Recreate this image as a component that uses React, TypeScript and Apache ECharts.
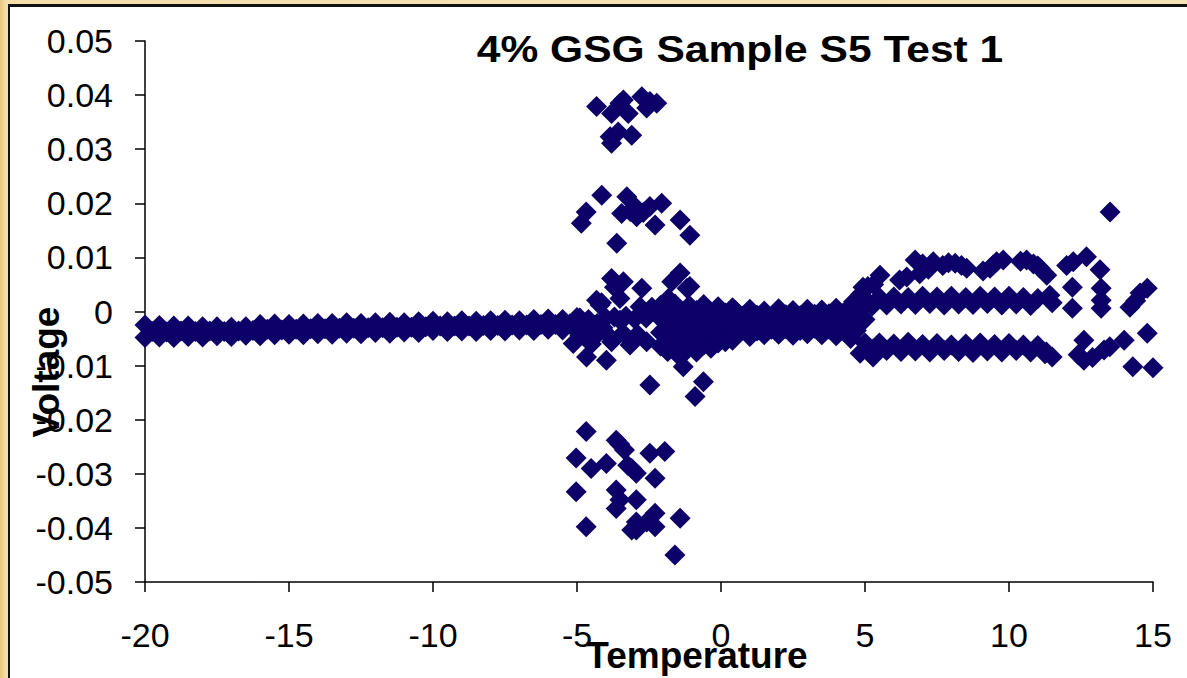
import React, { useEffect, useRef } from 'react';
import * as echarts from 'echarts';

// ---- axis definitions ----
const xMin = -20;
const xMax = 15;
const xStep = 5;
const yMin = -0.05;
const yMax = 0.05;
const yStep = 0.01;

const titleText = '4% GSG Sample S5 Test 1';
const xName = 'Temperature';
const yName = 'Voltage';

// ---- west band (steady readings, -20 .. -5) ----
const westX = [-20, -19.5, -19, -18.5, -18, -17.5, -17, -16.5, -16, -15.5, -15, -14.5, -14, -13.5, -13, -12.5, -12, -11.5, -11, -10.5, -10, -9.5, -9, -8.5, -8, -7.5, -7, -6.5, -6, -5.5, -5];
const westTop = [-0.0025, -0.0026, -0.0027, -0.0027, -0.0028, -0.0028, -0.0029, -0.0028, -0.0024, -0.0023, -0.0024, -0.0023, -0.0022, -0.0022, -0.0021, -0.0022, -0.0021, -0.002, -0.0021, -0.0019, -0.0018, -0.0019, -0.0017, -0.0018, -0.0017, -0.0016, -0.0017, -0.0015, -0.0014, -0.0015, -0.0011];
const westBottom = [-0.0048, -0.0047, -0.0048, -0.0046, -0.0047, -0.0045, -0.0046, -0.0044, -0.0045, -0.0043, -0.0042, -0.0043, -0.0041, -0.0042, -0.004, -0.0041, -0.0039, -0.004, -0.0038, -0.0039, -0.0035, -0.0037, -0.0036, -0.0037, -0.0035, -0.0036, -0.0034, -0.0035, -0.0033, -0.0034, -0.0036];
const westMidX = [-19.75, -19.25, -18.75, -18.25, -17.75, -17.25, -16.75, -16.25, -15.75, -15.25, -14.75, -14.25, -13.75, -13.25, -12.75, -12.25, -11.75, -11.25, -10.75, -10.25, -9.75, -9.25, -8.75, -8.25, -7.75, -7.25, -6.75, -6.25, -5.75, -5.25];
const westMid = [-0.0037, -0.0038, -0.0036, -0.0037, -0.0036, -0.0037, -0.0036, -0.0035, -0.0033, -0.0034, -0.0033, -0.0032, -0.0032, -0.0031, -0.0031, -0.003, -0.003, -0.0029, -0.0029, -0.0028, -0.0027, -0.0027, -0.0027, -0.0026, -0.0026, -0.0025, -0.0025, -0.0024, -0.0024, -0.0023];

// ---- burst region (-5 .. -0.5) ----
const burstHigh: [number, number][] = [
  [-4.32, 0.0379], [-3.8, 0.0366], [-3.51, 0.0385], [-3.39, 0.0391], [-3.22, 0.0366], [-2.75, 0.0397],
  [-2.58, 0.0376], [-2.47, 0.0388], [-2.23, 0.0385], [-3.85, 0.0323], [-3.57, 0.0332], [-3.8, 0.0311], [-3.1, 0.0326],
];
const burstMidHigh: [number, number][] = [
  [-4.14, 0.0215], [-4.68, 0.0184], [-4.85, 0.0163], [-3.27, 0.0212], [-3.45, 0.0181], [-2.99, 0.0194],
  [-2.93, 0.0175], [-2.47, 0.0194], [-2.06, 0.02], [-2.29, 0.016], [-1.42, 0.0169], [-1.08, 0.0141],
  [-3.62, 0.0126], [-3.15, 0.0185], [-2.7, 0.0183],
];
const burstNearTop: [number, number][] = [
  [-3.8, 0.0061], [-3.39, 0.0055], [-2.75, 0.0043], [-1.71, 0.0055], [-1.42, 0.0071], [-1.08, 0.0046],
  [-4.32, 0.0021], [-4.15, 0.0016], [-3.51, 0.0024], [-1.83, 0.0024], [-4.2, 0.0012], [-2.81, 0.0009],
  [-3.7, 0.0045], [-1.18, 0.0043],
];
const burstCore: [number, number][] = [
  [-4.9, -0.0012], [-4.75, -0.0028], [-4.6, -0.0015], [-4.45, -0.0035], [-4.3, -0.0022], [-4.1, -0.003],
  [-4.0, -0.0012], [-3.7, -0.001], [-3.3, -0.0009], [-3.0, -0.0014], [-2.6, -0.0012], [-2.4, 0.0008],
  [-3.9, -0.0045], [-3.4, -0.004], [-2.9, -0.0042],
];
const burstNearBottom: [number, number][] = [
  [-5.13, -0.0059], [-4.67, -0.0084], [-3.98, -0.009], [-3.8, -0.0056], [-3.16, -0.0062], [-2.58, -0.0056],
  [-4.26, -0.004], [-3.51, -0.0016], [-2.47, -0.0136], [-0.61, -0.013], [-0.9, -0.0157], [-1.31, -0.0102],
  [-1.89, -0.0071], [-1.42, -0.0084], [-4.9, -0.0045], [-4.5, -0.006],
];
const burstLow: [number, number][] = [
  [-4.68, -0.0222], [-5.03, -0.0271], [-4.51, -0.029], [-3.98, -0.0281], [-3.64, -0.0238], [-3.52, -0.0245],
  [-3.35, -0.0256], [-3.24, -0.0284], [-2.94, -0.0299], [-3.1, -0.029], [-2.47, -0.0262], [-1.95, -0.0259],
  [-2.29, -0.0308], [-5.03, -0.0333], [-3.64, -0.033], [-3.51, -0.0348], [-2.94, -0.0348], [-3.64, -0.0364],
  [-4.68, -0.0398], [-2.94, -0.0389], [-2.94, -0.0404], [-2.29, -0.0373], [-2.29, -0.0398], [-2.58, -0.0389],
  [-1.42, -0.0382], [-1.6, -0.045], [-3.1, -0.0404],
];

// ---- dense block (-2.1 .. 0.4) ----
const blockX = [-2.1, -1.85, -1.6, -1.35, -1.1, -0.85, -0.6, -0.35, -0.1, 0.15, 0.4];
const blockRow1 = [0.0011, 0.0001, 0.0014, -0.0002, 0.0011, 0.0002, 0.0013, -0.0001, 0.0009, -0.0003, 0.0007];
const blockRow2 = [-0.0013, -0.0026, -0.001, -0.0024, -0.0012, -0.0027, -0.0011, -0.0025, -0.0014, -0.0026, -0.0015];
const blockRow3 = [-0.0039, -0.0052, -0.0036, -0.005, -0.004, -0.0053, -0.0037, -0.0049, -0.004, -0.0047, -0.0042];
const blockRow4 = [-0.0064, -0.0074, -0.006, -0.0071, -0.0066, -0.0075, -0.0062, -0.0068, -0.0058, -0.0056, -0.0053];

// ---- core band (0.5 .. 4.5) ----
const coreX = [0.5, 1, 1.5, 2, 2.5, 3, 3.5, 4, 4.5];
const coreRowA = [0.0002, 0.0004, 0.0001, 0.0005, 0.0002, 0.0004, 0.0003, 0.0006, 0.0008];
const coreRowC = [-0.0022, -0.002, -0.0024, -0.0019, -0.0021, -0.0018, -0.002, -0.0017, -0.0015];
const coreRowE = [-0.0044, -0.0046, -0.0043, -0.0042, -0.0044, -0.0041, -0.0043, -0.0045, -0.0048];
const coreMidX = [0.75, 1.25, 1.75, 2.25, 2.75, 3.25, 3.75, 4.25];
const coreRowB = [-0.0009, -0.0007, -0.001, -0.0006, -0.0008, -0.0005, -0.0004, -0.0003];
const coreRowD = [-0.0034, -0.0036, -0.0033, -0.0032, -0.0035, -0.0031, -0.0033, -0.0035];

// ---- east branches (4.5 .. 15) ----
const transition: [number, number][] = [
  [4.6, 0.0018], [4.85, 0.0032], [5.1, 0.0046], [4.93, 0.0045], [4.75, 0.0], [5.0, -0.0015],
  [4.5, -0.005], [4.83, -0.0077], [5.0, -0.0058], [5.25, -0.007], [5.28, -0.0084], [4.7, -0.0035],
];
const upperBranch: [number, number][] = [
  [5.3, 0.005], [5.52, 0.0067], [6.2, 0.0058], [6.45, 0.0064], [6.74, 0.0095], [6.9, 0.007], [7.0, 0.0088],
  [7.2, 0.0078], [7.37, 0.0092], [7.7, 0.0085], [7.9, 0.009], [8.13, 0.0089], [8.35, 0.0085], [8.53, 0.008],
  [9.1, 0.0075], [9.34, 0.008], [9.45, 0.0086], [9.57, 0.0092], [9.8, 0.0095], [10.4, 0.0093], [10.61, 0.0095],
  [10.85, 0.0088], [11.0, 0.0084], [11.08, 0.008], [11.31, 0.0067], [12.0, 0.0085], [12.23, 0.0092],
  [12.69, 0.0101], [13.16, 0.0077], [13.51, 0.0184], [15.01, 0.0104],
];
const midBranchX = [5, 5.5, 6, 6.5, 7, 7.5, 8, 8.5, 9, 9.5, 10, 10.5, 11];
const midBranchTop = [0.0023, 0.0026, 0.0027, 0.0026, 0.0028, 0.0027, 0.0028, 0.0026, 0.0028, 0.0027, 0.0028, 0.0026, 0.0024];
const midBranch2X = [5.25, 5.75, 6.25, 6.75, 7.25, 7.75, 8.25, 8.75, 9.25, 9.75, 10.25, 10.75];
const midBranchBottom = [0.001, 0.0012, 0.0014, 0.0013, 0.0015, 0.0012, 0.0014, 0.0013, 0.0015, 0.0012, 0.0014, 0.0011];
const lowBranchX = [5.5, 6, 6.5, 7, 7.5, 8, 8.5, 9, 9.5, 10, 10.5, 11];
const lowBranchTop = [-0.0058, -0.006, -0.0057, -0.0061, -0.0059, -0.0062, -0.006, -0.0058, -0.0061, -0.0059, -0.0062, -0.0063];
const lowBranch2X = [5.75, 6.25, 6.75, 7.25, 7.75, 8.25, 8.75, 9.25, 9.75, 10.25, 10.75, 11.25];
const lowBranchBottom = [-0.0072, -0.0074, -0.0073, -0.0075, -0.0072, -0.0074, -0.0076, -0.0073, -0.0075, -0.0072, -0.0075, -0.0078];
const eastScatter: [number, number][] = [
  [11.42, 0.003], [11.5, 0.0016], [12.2, 0.0045], [12.2, 0.0006], [13.2, 0.0043], [13.2, 0.0021], [13.2, 0.0006],
  [14.55, 0.0034], [14.2, 0.0008], [14.8, 0.0043], [14.4, 0.002],
  [11.5, -0.0084], [11.3, -0.0075], [12.6, -0.0053], [12.6, -0.009], [12.4, -0.008], [12.9, -0.0085],
  [13.3, -0.0071], [13.5, -0.0065], [14.0, -0.0053], [14.3, -0.0102], [14.8, -0.004], [15.0, -0.0104],
];

const pairs = (xs: number[], ys: number[]): [number, number][] => xs.map((x, i) => [x, ys[i]]);

const allPoints: [number, number][] = [
  ...pairs(westX, westTop),
  ...pairs(westMidX, westMid),
  ...pairs(westX, westBottom),
  ...burstHigh,
  ...burstMidHigh,
  ...burstNearTop,
  ...burstCore,
  ...burstNearBottom,
  ...burstLow,
  ...pairs(blockX, blockRow1),
  ...pairs(blockX, blockRow2),
  ...pairs(blockX, blockRow3),
  ...pairs(blockX, blockRow4),
  ...pairs(coreX, coreRowA),
  ...pairs(coreMidX, coreRowB),
  ...pairs(coreX, coreRowC),
  ...pairs(coreMidX, coreRowD),
  ...pairs(coreX, coreRowE),
  ...transition,
  ...upperBranch,
  ...pairs(midBranchX, midBranchTop),
  ...pairs(midBranch2X, midBranchBottom),
  ...pairs(lowBranchX, lowBranchTop),
  ...pairs(lowBranch2X, lowBranchBottom),
  ...eastScatter,
];

const FONT = "'Liberation Sans', Arial, Helvetica, sans-serif";

export default function App() {
  const ref = useRef<HTMLDivElement>(null);

  useEffect(() => {
    if (!ref.current) return;
    const chart = echarts.init(ref.current, null, { renderer: 'svg' });
    chart.setOption({
      animation: false,
      backgroundColor: 'transparent',
      grid: { left: 145, right: 34, top: 41, bottom: 96, containLabel: false },
      xAxis: {
        type: 'value',
        min: xMin,
        max: xMax,
        interval: xStep,
        axisLine: { show: true, onZero: false, lineStyle: { color: '#000', width: 1.5 } },
        axisTick: { show: true, length: 10, lineStyle: { color: '#000', width: 1.5 } },
        splitLine: { show: false },
        axisLabel: { color: '#000', fontSize: 34, fontFamily: FONT, margin: 36 },
      },
      yAxis: {
        type: 'value',
        min: yMin,
        max: yMax,
        interval: yStep,
        axisLine: { show: true, onZero: false, lineStyle: { color: '#000', width: 1.5 } },
        axisTick: { show: true, length: 10, lineStyle: { color: '#000', width: 1.5 } },
        splitLine: { show: false },
        axisLabel: {
          color: '#000',
          fontSize: 34,
          fontFamily: FONT,
          margin: 32,
          formatter: (v: number) => {
            const r = Math.round(v * 100) / 100;
            return r === 0 ? '0' : r.toFixed(2);
          },
        },
      },
      series: [
        {
          type: 'scatter',
          data: allPoints,
          symbol: 'diamond',
          symbolSize: 21,
          itemStyle: { color: '#0d0068', opacity: 1 },
          emphasis: { disabled: true },
          z: 2,
        },
      ],
      graphic: [
        {
          type: 'text',
          x: 740,
          y: 49,
          scaleX: 1.15,
          style: { text: titleText, font: `bold 37px ${FONT}`, fill: '#000', align: 'center', verticalAlign: 'middle' },
          z: 10,
        },
        {
          type: 'text',
          x: 697,
          y: 655,
          style: { text: xName, font: `bold 37px ${FONT}`, fill: '#000', align: 'center', verticalAlign: 'middle' },
          z: 10,
        },
        {
          type: 'text',
          x: 46,
          y: 372,
          rotation: Math.PI / 2,
          style: { text: yName, font: `bold 37px ${FONT}`, fill: '#000', align: 'center', verticalAlign: 'middle' },
          z: 10,
        },
      ],
    });
    return () => chart.dispose();
  }, []);

  return (
    <div style={{ position: 'fixed', left: 0, top: 0, width: 1187, height: 678, background: 'linear-gradient(90deg, #e9c67c 0px, #f4deac 6px, #f6e3b6 100%)', overflow: 'hidden' }}>
      <div style={{ position: 'absolute', left: 8, top: 4, width: 1300, height: 800, background: '#fff', borderTop: '3px solid #111', borderLeft: '2px solid #111' }} />
      <div ref={ref} style={{ position: 'absolute', left: 0, top: 0, width: 1187, height: 678 }} />
    </div>
  );
}
